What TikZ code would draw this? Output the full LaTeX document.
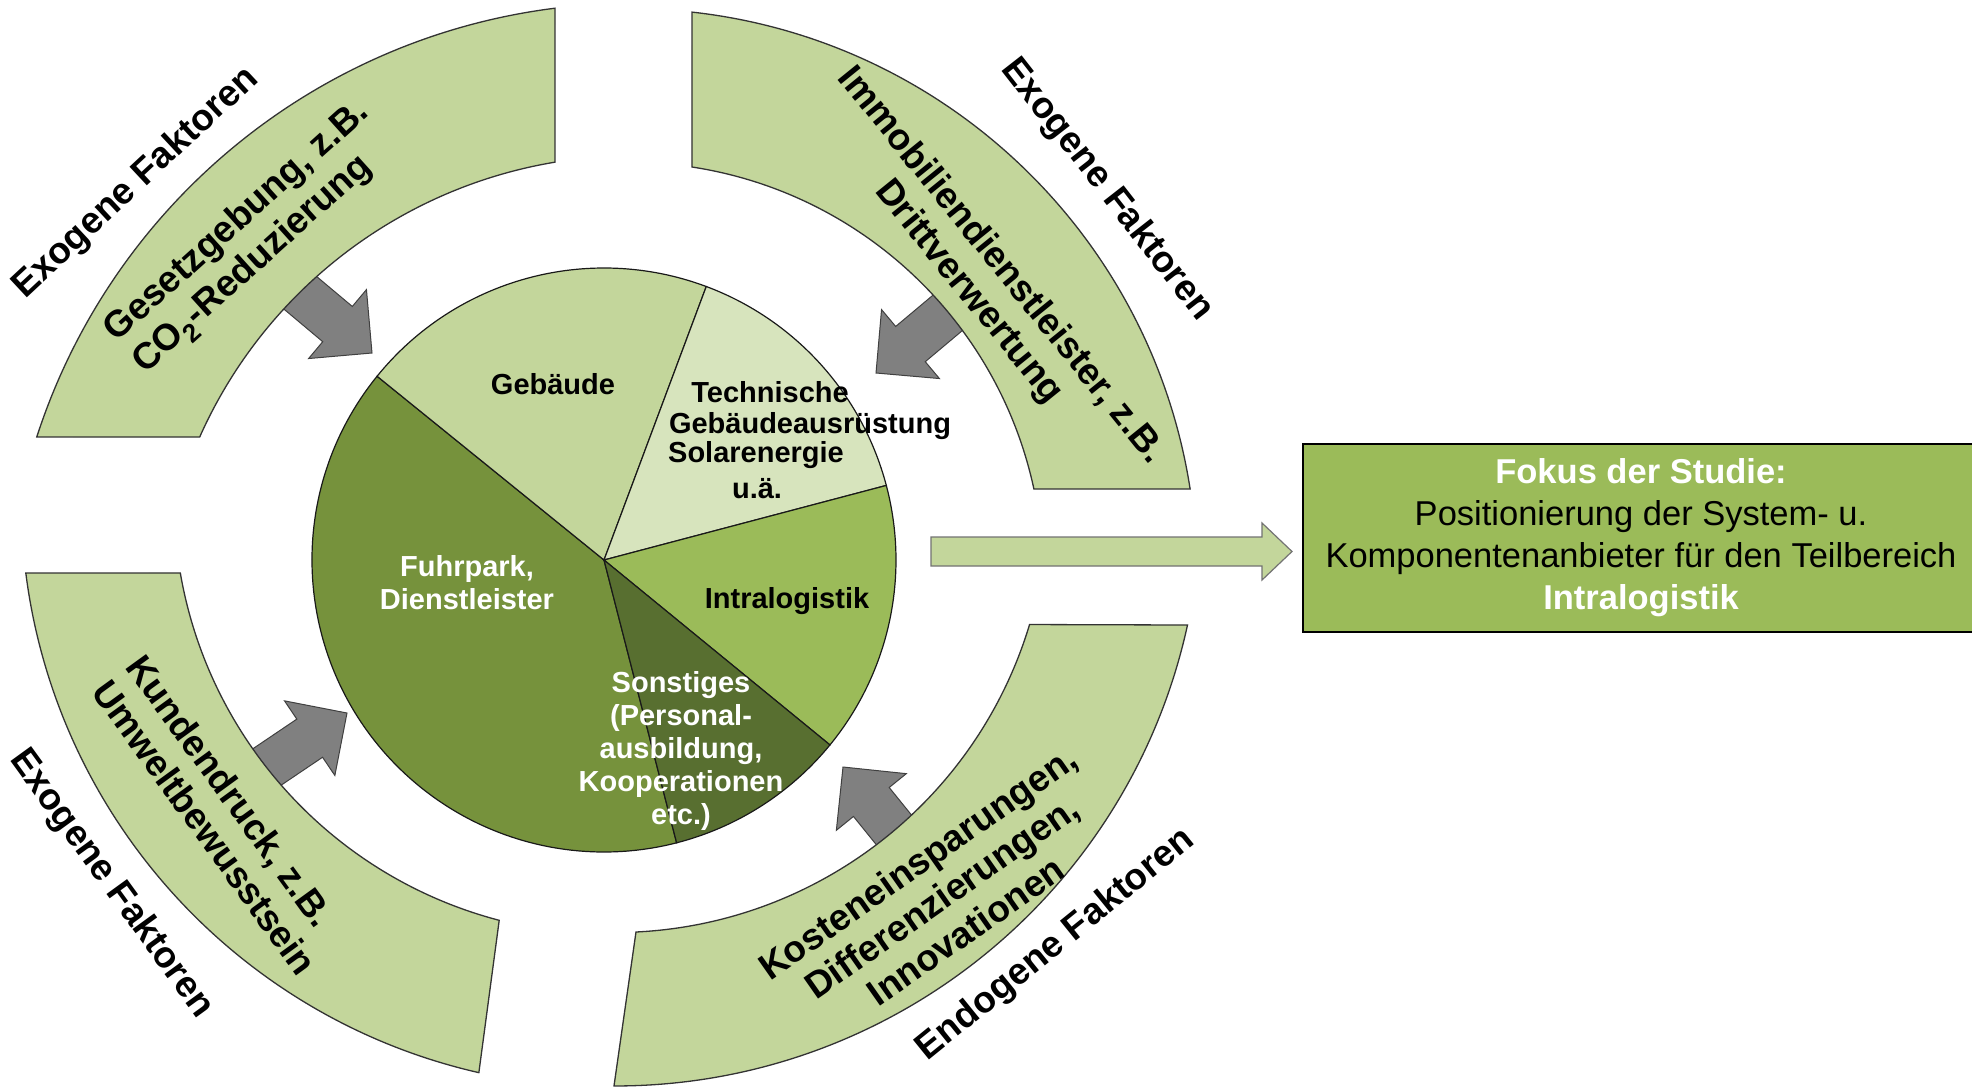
\documentclass[tikz,border=0pt]{standalone}
\usepackage{fontspec}
\setmainfont{Liberation Sans}
\newcommand\blockarrow[4]{%
  \begin{scope}[shift={(#1,#2)},rotate=#3]
    \draw[grayarr] (0,0) -- (-45,45) -- (-45,23) -- (-#4,23) -- (-#4,-23) -- (-45,-23) -- (-45,-45) -- cycle;
  \end{scope}}
\newcommand\pieslice[3]{%
  \filldraw[slice, fill=#1] (pc) -- ++(#2:292) arc[start angle=#2, end angle=#3, radius=292] -- cycle;}
\begin{document}
\begin{tikzpicture}[x=1pt,y=1pt]
\definecolor{bandc}{HTML}{C3D69B}
\definecolor{gebc}{HTML}{C3D69B}
\definecolor{techc}{HTML}{D7E4BD}
\definecolor{intrac}{HTML}{9BBB59}
\definecolor{fuhrc}{HTML}{76923C}
\definecolor{sonstc}{HTML}{586F30}
\definecolor{boxc}{HTML}{9BBB59}
\definecolor{arrc}{HTML}{808080}
\tikzset{
  band/.style={fill=bandc, draw=black!80, line width=1.3pt},
  slice/.style={draw=black!90, line width=1.2pt},
  grayarr/.style={fill=arrc, draw=black!75, line width=1pt},
  bandtxt/.style={font=\fontsize{37}{42}\selectfont\bfseries, inner sep=0pt},
  pietxt/.style={font=\fontsize{29}{33}\selectfont\bfseries, inner sep=0pt},
}
\useasboundingbox (0,0) rectangle (1972,-1087);
\fill[white] (0,0) rectangle (1972,-1087);

% gray block arrows (behind the bands)
\blockarrow{372}{-353}{-40}{150}
\blockarrow{876}{-373}{220}{140}
\blockarrow{347}{-713}{34}{140}
\blockarrow{843}{-767}{129}{130}

% bands
\draw[band] (555,-8.2) arc[start angle=97.15, end angle=162.06, radius=626.7]
  -- (199.7,-437) arc[start angle=155.99, end angle=99.47, radius=474.3] -- cycle;
\draw[band] (692,-12.1) arc[start angle=83.67, end angle=8.82, radius=567.4]
  -- (1033.9,-489) arc[start angle=12.14, end angle=81.30, radius=413.8] -- cycle;
\draw[band] (25.8,-573) arc[start angle=187.23, end angle=257.17, radius=588.4]
  -- (499.2,-920.3) arc[start angle=255.33, end angle=189.78, radius=435.5] -- cycle;
\draw[band] (1187.5,-625) arc[start angle=-12.32, end angle=-90.1, radius=586]
  -- (636,-932) arc[start angle=-87.22, end angle=-16.78, radius=433] -- cycle;

% pie
\coordinate (pc) at (604,-560);
\pieslice{fuhrc}{141}{284.4}
\pieslice{gebc}{69.5}{141}
\pieslice{techc}{14.8}{69.5}
\pieslice{intrac}{-39.3}{14.8}
\pieslice{sonstc}{-75.6}{-39.3}

% pie labels
\node[pietxt] (geb) at (553,-384) {Gebäude};
\node[pietxt] (tech1) at (770,-392) {Technische};
\node[pietxt] (tech2) at (810,-426) {Gebäudeausrüstung};
\node[pietxt] (tech3) at (756,-455) {Solarenergie};
\node[pietxt] (tech4) at (757,-489) {u.ä.};
\node[pietxt, white, align=center] (fuhr) at (467,-582.5) {Fuhrpark,\\Dienstleister};
\node[pietxt] (intra) at (787,-601) {Intralogistik};
\node[pietxt, white, align=center] (sonst) at (681,-751) {Sonstiges\\(Personal-\\ausbildung,\\Kooperationen\\etc.)};

% band texts
\node[bandtxt, rotate=43] (exo1) at (136,-183) {Exogene Faktoren};
\node[bandtxt, rotate=42, align=left] (gesetz) at (252,-238) {Gesetzgebung, z.B.\\CO\textsubscript{2}-Reduzierung};
\node[bandtxt, rotate=-52] (exo2) at (1107,-190) {Exogene Faktoren};
\node[bandtxt, rotate=-51, align=center] (immo) at (984.5,-279) {Immobiliendienstleister, z.B.\\Drittverwertung};
\node[bandtxt, rotate=-54] (exo3) at (111,-884) {Exogene Faktoren};
\node[bandtxt, rotate=-54, align=left] (kunde) at (222,-815) {Kundendruck, z.B.\\Umweltbewusstsein};
\node[bandtxt, rotate=39] (endo) at (1056,-945) {Endogene Faktoren};
\node[bandtxt, rotate=35, align=center] (kosten) at (941.5,-896.5) {Kosteneinsparungen,\\Differenzierungen,\\Innovationen};

% right arrow
\draw[fill=bandc, draw=black!55, line width=1.2pt] (931,-537) -- (1262,-537) -- (1262,-523) -- (1292,-551.5) -- (1262,-580) -- (1262,-566) -- (931,-566) -- cycle;

% focus box
\draw[fill=boxc, draw=black, line width=2.2pt] (1303,-444) rectangle (1990,-632);
\node[font=\fontsize{34.5}{42}\selectfont, align=center, inner sep=0pt] (fokus) at (1641,-538)
  {{\bfseries\color{white}Fokus der Studie:}\\Positionierung der System- u.\\Komponentenanbieter für den Teilbereich\\{\bfseries\color{white}Intralogistik}};
\end{tikzpicture}
\end{document}
